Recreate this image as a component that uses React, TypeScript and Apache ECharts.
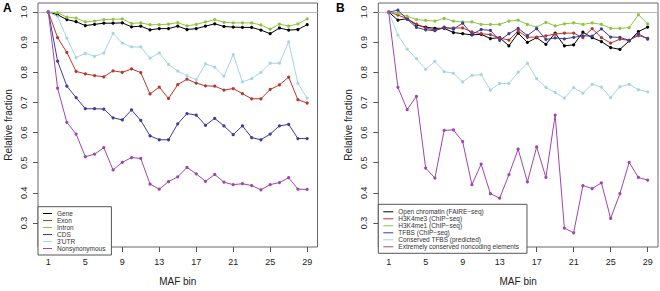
import React, { useEffect, useRef } from "react";
import * as echarts from "echarts";

const bins = [1,2,3,4,5,6,7,8,9,10,11,12,13,14,15,16,17,18,19,20,21,22,23,24,25,26,27,28,29];
const xTicks = [1, 5, 9, 13, 17, 21, 25, 29];
const yTicks = [0.3, 0.4, 0.5, 0.6, 0.7, 0.8, 0.9, 1.0];

// Panel A
const geneA = [1.0,0.991,0.975,0.968,0.955,0.959,0.963,0.963,0.964,0.951,0.953,0.941,0.945,0.945,0.953,0.942,0.945,0.953,0.961,0.952,0.95,0.949,0.949,0.94,0.928,0.947,0.94,0.942,0.958];
const exonA = [1.0,0.915,0.866,0.803,0.795,0.789,0.785,0.805,0.8,0.811,0.799,0.728,0.751,0.713,0.759,0.777,0.764,0.755,0.754,0.741,0.746,0.729,0.712,0.712,0.743,0.758,0.784,0.709,0.698];
const intronA = [1.0,0.998,0.983,0.98,0.967,0.97,0.975,0.976,0.977,0.962,0.964,0.958,0.958,0.96,0.965,0.954,0.959,0.967,0.975,0.966,0.964,0.964,0.964,0.957,0.943,0.96,0.953,0.961,0.977];
const cdsA = [1.0,0.837,0.754,0.716,0.679,0.679,0.678,0.649,0.642,0.675,0.64,0.589,0.576,0.576,0.629,0.663,0.658,0.624,0.647,0.622,0.593,0.622,0.583,0.576,0.595,0.622,0.627,0.58,0.58];
const utrA = [1.0,0.985,0.913,0.849,0.863,0.853,0.864,0.929,0.897,0.884,0.884,0.847,0.864,0.826,0.804,0.788,0.775,0.828,0.817,0.787,0.859,0.768,0.779,0.8,0.83,0.83,0.901,0.763,0.714];
const nonsynA = [1.0,0.747,0.634,0.595,0.52,0.528,0.55,0.476,0.501,0.517,0.514,0.429,0.412,0.437,0.453,0.484,0.463,0.438,0.461,0.435,0.427,0.43,0.424,0.41,0.427,0.434,0.45,0.412,0.411];

// Panel B
const openB = [1.0,0.973,0.978,0.957,0.95,0.946,0.946,0.932,0.928,0.924,0.926,0.912,0.915,0.888,0.93,0.899,0.915,0.893,0.93,0.888,0.891,0.933,0.915,0.902,0.882,0.876,0.904,0.935,0.95];
const h3k4me3B = [1.0,0.99,0.978,0.96,0.947,0.94,0.947,0.947,0.947,0.934,0.928,0.925,0.914,0.907,0.937,0.916,0.917,0.921,0.927,0.93,0.93,0.915,0.945,0.915,0.897,0.91,0.906,0.922,0.913];
const h3k4me1B = [1.0,0.996,0.986,0.975,0.972,0.97,0.979,0.97,0.967,0.967,0.959,0.959,0.959,0.97,0.973,0.959,0.95,0.966,0.954,0.961,0.964,0.959,0.964,0.959,0.946,0.946,0.948,0.991,0.961];
const tfbsB = [1.0,1.006,0.976,0.949,0.941,0.938,0.95,0.943,0.963,0.926,0.942,0.939,0.906,0.928,0.946,0.922,0.945,0.909,0.914,0.911,0.916,0.921,0.92,0.944,0.917,0.916,0.906,0.928,0.91];
const consTfbsB = [1.0,0.923,0.877,0.845,0.81,0.836,0.802,0.797,0.768,0.79,0.792,0.741,0.763,0.763,0.8,0.83,0.779,0.75,0.733,0.714,0.749,0.731,0.76,0.751,0.716,0.752,0.76,0.742,0.735];
const ecneB = [1.0,0.75,0.676,0.72,0.482,0.449,0.607,0.609,0.57,0.427,0.495,0.397,0.382,0.46,0.545,0.436,0.552,0.451,0.658,0.283,0.267,0.424,0.414,0.433,0.315,0.397,0.501,0.451,0.442];

const namesA = ["Gene", "Exon", "Intron", "CDS", "3'UTR", "Nonsynonymous"];
const namesB = [
  "Open chromatin (FAIRE\u2212seq)",
  "H3K4me3 (ChIP\u2212seq)",
  "H3K4me1 (ChIP\u2212seq)",
  "TFBS (ChIP\u2212seq)",
  "Conserved TFBS (predicted)",
  "Extremely conserved noncoding elements",
];
const valuesA = [geneA, exonA, intronA, cdsA, utrA, nonsynA];
const valuesB = [openB, h3k4me3B, h3k4me1B, tfbsB, consTfbsB, ecneB];
const colors = ["#000000", "#b8362c", "#8cc63f", "#3c3c9c", "#a3d6e2", "#a044b0"];

const FONT = "Liberation Sans, Arial, sans-serif";

export default function App() {
  const ref = useRef<HTMLDivElement>(null);
  useEffect(() => {
    if (!ref.current) return;
    const chart = echarts.init(ref.current, null, { renderer: "svg" });
    const grids = [
      { left: 38, top: 3, width: 279.5, height: 249 },
      { left: 378.3, top: 3, width: 279.7, height: 249 },
    ];
    const mkX = (i: number) => ({
      type: "value",
      gridIndex: i,
      min: -0.12,
      max: 30.12,
      name: "MAF bin",
      nameLocation: "middle",
      nameGap: 29,
      nameTextStyle: { fontSize: 10, color: "#222", fontFamily: FONT },
      axisLine: { show: false, onZero: false },
      axisTick: { show: true, length: 5, customValues: xTicks, lineStyle: { color: "#555" } },
      axisLabel: { customValues: xTicks, fontSize: 9, color: "#222", margin: 10, fontFamily: FONT },
      splitLine: { show: false },
    });
    const mkY = (i: number) => ({
      type: "value",
      gridIndex: i,
      min: 0.22,
      max: 1.03,
      name: "Relative fraction",
      nameLocation: "middle",
      nameGap: 25,
      nameTextStyle: { fontSize: 10, color: "#222", fontFamily: FONT },
      axisLine: { show: false, onZero: false },
      axisTick: { show: true, length: 5, customValues: yTicks, lineStyle: { color: "#555" } },
      axisLabel: {
        customValues: yTicks,
        rotate: 90,
        fontSize: 9,
        color: "#222",
        margin: 10,
        fontFamily: FONT,
        formatter: (v: number) => v.toFixed(1),
      },
      splitLine: { show: false },
    });
    const mkSeries = (names: string[], vals: number[][], gi: number) =>
      names.map((n, k) => ({
        type: "line",
        name: n,
        xAxisIndex: gi,
        yAxisIndex: gi,
        data: bins.map((b, j) => [b, vals[k][j]]),
        symbol: "circle",
        symbolSize: 3.2,
        showSymbol: true,
        lineStyle: { width: 1, color: colors[k] },
        itemStyle: { color: colors[k] },
        z: 3,
        markLine:
          k === 0
            ? {
                silent: true,
                symbol: "none",
                label: { show: false },
                lineStyle: { color: "#bbbbbb", width: 1, type: "solid" },
                data: [{ yAxis: 1.0 }],
                z: 1,
              }
            : undefined,
      }));
    const mkLegend = (names: string[], left: number, top: number, pad: number[], itemW: number) => ({
      data: names,
      orient: "vertical",
      left,
      top,
      padding: pad,
      itemGap: 0,
      itemWidth: itemW,
      itemHeight: 1,
      icon: "rect",
      backgroundColor: "#ffffff",
      borderColor: "#555",
      borderWidth: 1,
      borderRadius: 0,
      selectedMode: false,
      textStyle: { fontSize: 6.5, lineHeight: 6.6, color: "#333", fontFamily: FONT, padding: [0, 0, 0, 0] },
    });
    chart.setOption({
      animation: false,
      backgroundColor: "#ffffff",
      grid: grids.map((g) => ({ ...g, show: true, borderColor: "#666", borderWidth: 1, backgroundColor: "transparent" })),
      xAxis: [mkX(0), mkX(1)],
      yAxis: [mkY(0), mkY(1)],
      legend: [
        mkLegend(namesA, 38, 206.7, [3.3, 6, 3, 5], 9),
        mkLegend(namesB, 378.3, 204.3, [4, 8, 3, 5], 10),
      ],
      series: [...mkSeries(namesA, valuesA, 0), ...mkSeries(namesB, valuesB, 1)],
      graphic: [
        { type: "text", left: 3, top: 2, style: { text: "A", fontSize: 12, fontWeight: "bold", fill: "#000", fontFamily: FONT } },
        { type: "text", left: 336, top: 2, style: { text: "B", fontSize: 12, fontWeight: "bold", fill: "#000", fontFamily: FONT } },
      ],
    });
    return () => chart.dispose();
  }, []);
  return (
    <div
      ref={ref}
      style={{ position: "absolute", left: 0, top: 0, width: 660, height: 291 }}
    />
  );
}
